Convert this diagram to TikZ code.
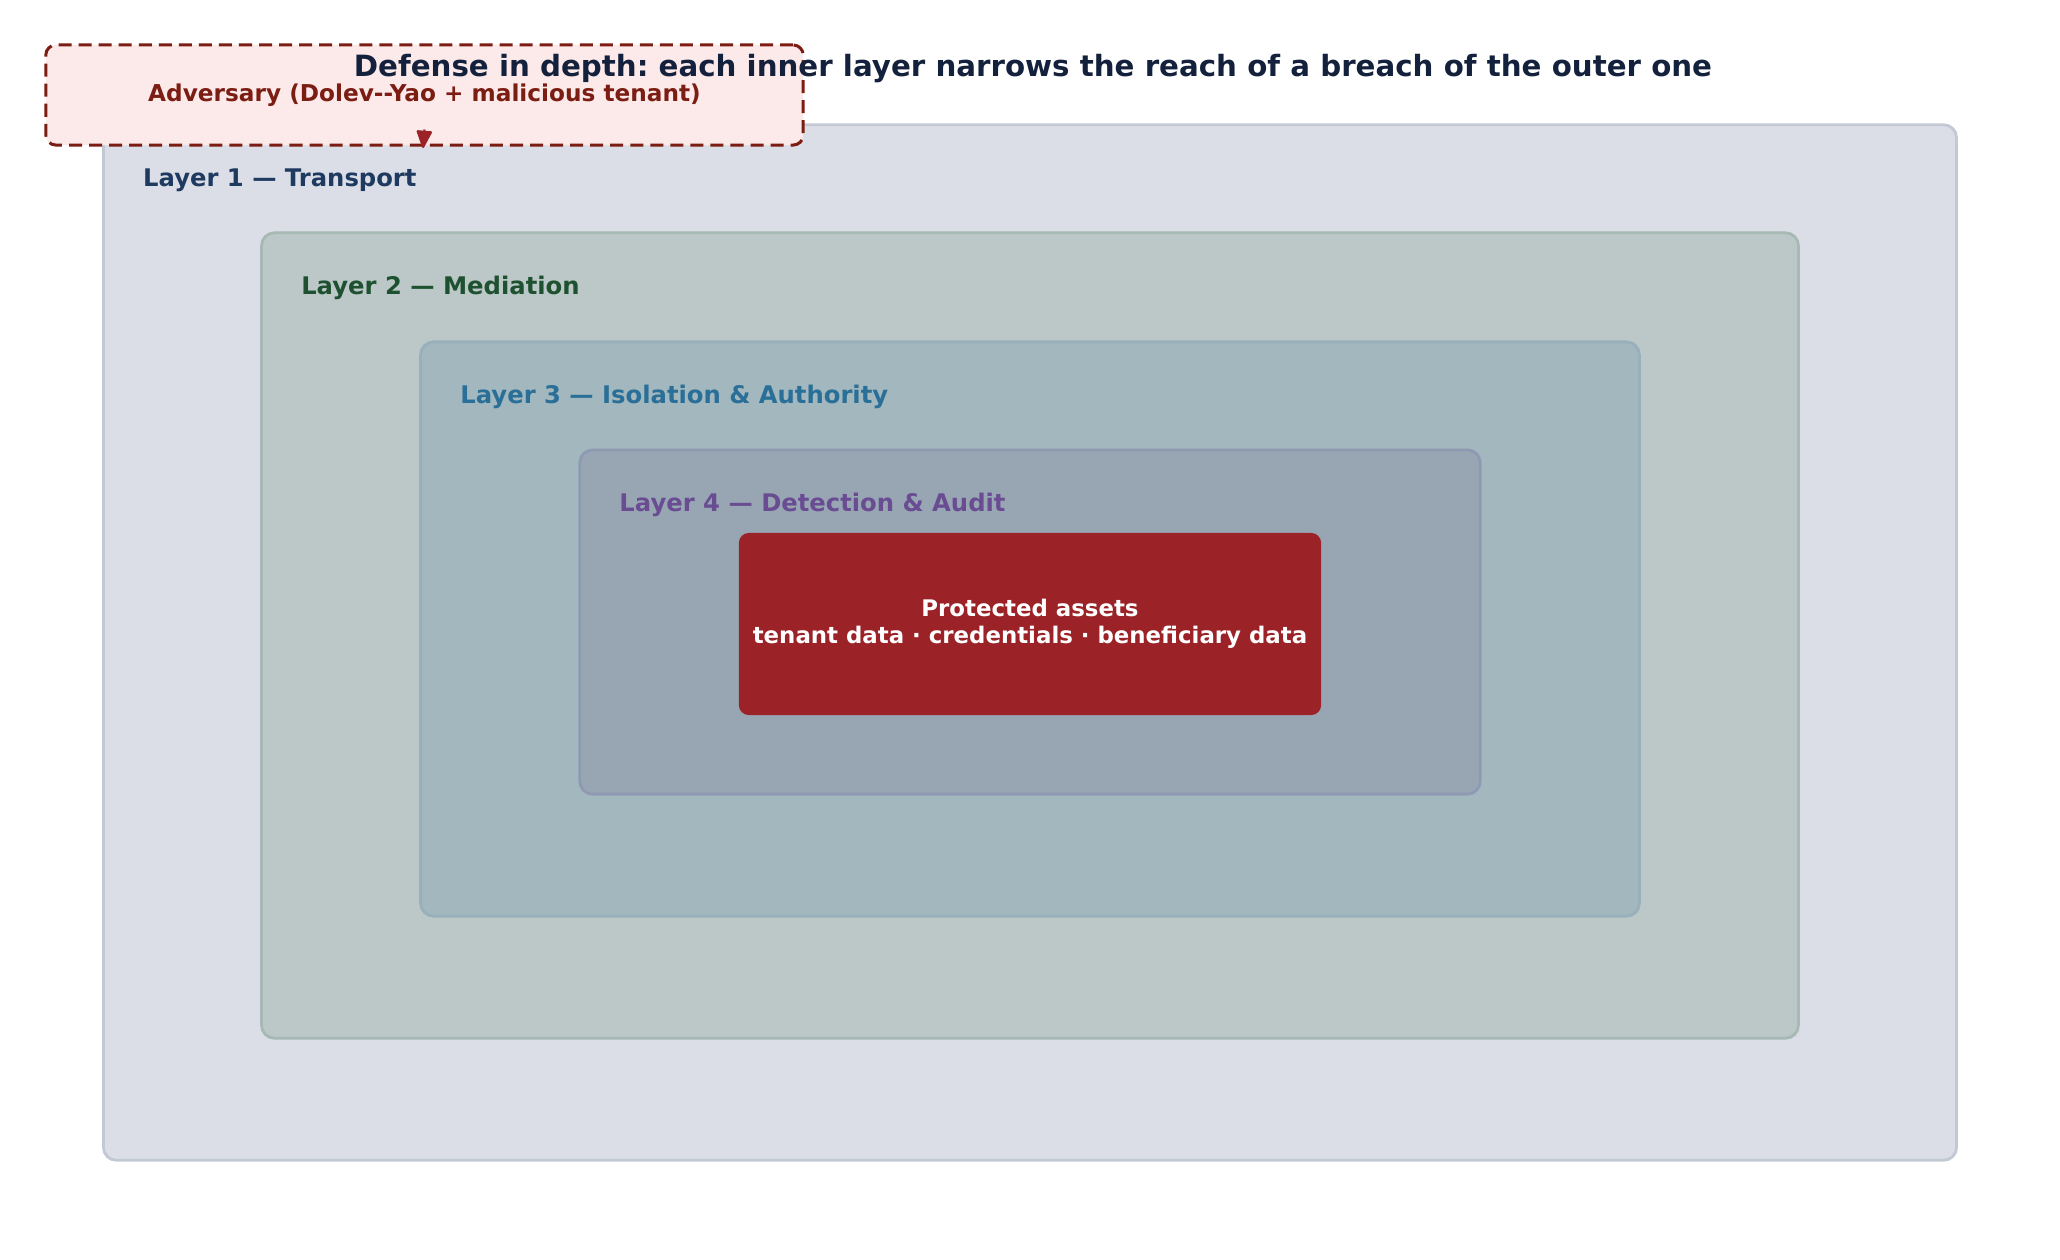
\documentclass[tikz,border=0pt]{standalone}
\usepackage{fontspec}
\setmainfont{DejaVu Sans}
\usetikzlibrary{arrows.meta}
\frenchspacing

\definecolor{titleink}{HTML}{14213D}
\definecolor{l1fill}{HTML}{DBDEE6}
\definecolor{l1line}{HTML}{C3C9D4}
\definecolor{l1ink}{HTML}{1F3A60}
\definecolor{l2fill}{HTML}{BCC8C8}
\definecolor{l2line}{HTML}{A7B9B3}
\definecolor{l2ink}{HTML}{1E5130}
\definecolor{l3fill}{HTML}{A3B7BE}
\definecolor{l3line}{HTML}{97B0BB}
\definecolor{l3ink}{HTML}{2A6F97}
\definecolor{l4fill}{HTML}{98A6B4}
\definecolor{l4line}{HTML}{8F9AB2}
\definecolor{l4ink}{HTML}{6A4C93}
\definecolor{assetfill}{HTML}{9B2226}
\definecolor{advfill}{HTML}{FCE9E9}
\definecolor{advline}{HTML}{7B1D12}

\begin{document}
\begin{tikzpicture}[x=0.01cm, y=-0.01cm]
    \tikzset{layer/.style = {draw, rounded corners=0.13cm, line width=0.8pt, inner sep=0pt, outer sep=0pt}}
    \tikzset{tag/.style = {anchor=base west, inner sep=0pt, font=\bfseries\fontsize{6.9}{8.3}\selectfont}}
    \tikzset{hit/.style = {draw=assetfill, fill=assetfill, line width=0.6pt, -{Triangle[length=0.19cm, width=0.16cm, round]}}}
    \useasboundingbox (0,0) rectangle (2060,1259);

    % layers, outermost first
    \node[layer, fill=l1fill, draw=l1line, minimum width=18.52cm, minimum height=10.35cm] (l1) at (1030,642.5) {};
    \node[layer, fill=l2fill, draw=l2line, minimum width=15.36cm, minimum height=8.05cm] (l2) at (1030,635.5) {};
    \node[layer, fill=l3fill, draw=l3line, minimum width=12.18cm, minimum height=5.74cm] (l3) at (1030,629) {};
    \node[layer, fill=l4fill, draw=l4line, minimum width=9.00cm, minimum height=3.44cm] (l4) at (1030,622) {};

    % layer titles
    \node[tag, text=l1ink] (t1) at ([xshift=0.39cm, yshift=-0.62cm]l1.north west) {Layer 1 — Transport};
    \node[tag, text=l2ink] (t2) at ([xshift=0.39cm, yshift=-0.62cm]l2.north west) {Layer 2 — Mediation};
    \node[tag, text=l3ink] (t3) at ([xshift=0.39cm, yshift=-0.62cm]l3.north west) {Layer 3 — Isolation \& Authority};
    \node[tag, text=l4ink] (t4) at ([xshift=0.39cm, yshift=-0.62cm]l4.north west) {Layer 4 — Detection \& Audit};

    % core
    \node[fill=assetfill, rounded corners=0.1cm, minimum width=5.82cm, minimum height=1.82cm, inner sep=0pt,
          text=white, align=center, font=\bfseries\fontsize{6.5}{7.6}\selectfont] (assets) at (1030,624)
          {Protected assets\\tenant data · credentials · beneficiary data};

    % attacker
    \node[draw=advline, fill=advfill, line width=0.85pt, dash pattern=on 3.7pt off 2pt, rounded corners=0.1cm,
          minimum width=7.57cm, minimum height=1.00cm, inner sep=0pt, text=advline,
          font=\bfseries\fontsize{6.6}{7.9}\selectfont] (adv) at (424.5,95)
          {Adversary (Dolev-{}-Yao + malicious tenant)};
    \coordinate (breach) at (423,148);
    \draw[hit] ([yshift=0.17cm]adv.south) -- (breach);

    % heading
    \node[anchor=base, inner sep=0pt, text=titleink, font=\bfseries\fontsize{8.33}{10}\selectfont] (title) at (1033,76)
          {Defense in depth: each inner layer narrows the reach of a breach of the outer one};
\end{tikzpicture}
\end{document}
